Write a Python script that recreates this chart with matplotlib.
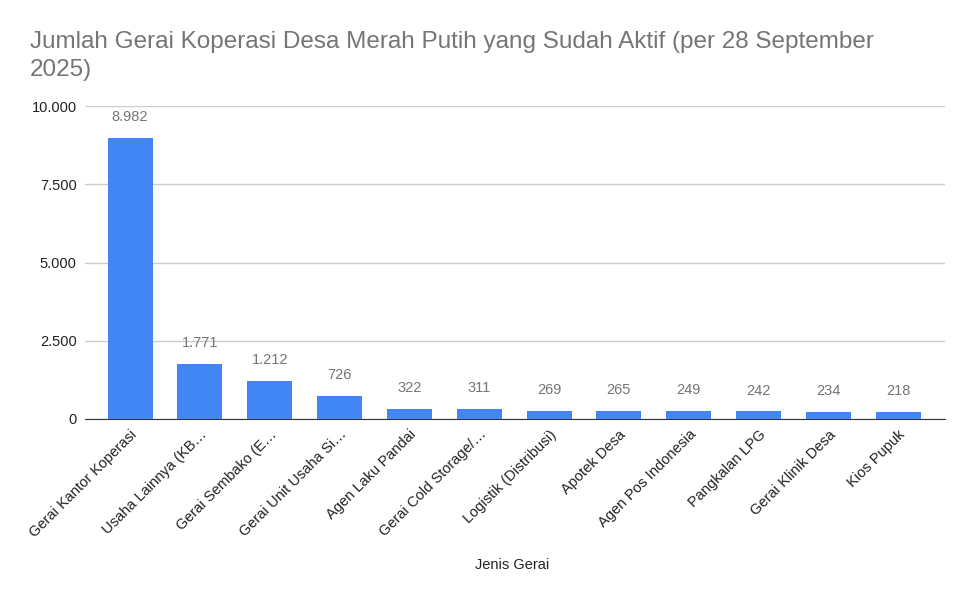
import matplotlib.pyplot as plt

plt.rcParams['font.family'] = ['Liberation Sans', 'DejaVu Sans']

# data
categories = ["Gerai Kantor Koperasi", "Usaha Lainnya (KB…", "Gerai Sembako (E…",
              "Gerai Unit Usaha Si…", "Agen Laku Pandai", "Gerai Cold Storage/…",
              "Logistik (Distribusi)", "Apotek Desa", "Agen Pos Indonesia",
              "Pangkalan LPG", "Gerai Klinik Desa", "Kios Pupuk"]
values = [8982, 1771, 1212, 726, 322, 311, 269, 265, 249, 242, 234, 218]
yticks = [0, 2500, 5000, 7500, 10000]


def fmt(v):
    return f"{v:,}".replace(",", ".")


fig = plt.figure(figsize=(9.75, 6.03), dpi=100)
ax = fig.add_axes([85 / 975, 1 - 419 / 603, 860 / 975, 313 / 603])

x = range(len(categories))
ax.bar(x, values, width=0.645, color='#4285F4', zorder=3)
for i, v in zip(x, values):
    ax.annotate(fmt(v), (i, v), xytext=(0, 10), textcoords='offset points',
                ha='center', va='bottom', fontsize=10.5, color='#757575')

ax.set_xlim(-0.645, 11.67)
ax.set_ylim(0, 10000)
ax.set_yticks(yticks)
ax.set_yticklabels([fmt(t) for t in yticks], fontsize=10.5, color='#222222')
ax.yaxis.grid(True, color='#cccccc', linewidth=1, zorder=0)
ax.set_xticks(list(x))
ax.set_xticklabels(categories, rotation=45, ha='right', rotation_mode='anchor',
                   fontsize=10.5, color='#222222')
ax.tick_params(length=0, pad=6)
for s in ['top', 'right', 'left']:
    ax.spines[s].set_visible(False)
ax.spines['bottom'].set_color('#333333')

fig.text(512 / 975, 1 - 565 / 603, "Jenis Gerai", ha='center', va='center',
         fontsize=10.5, color='#222222')
fig.text(30 / 975, 1 - 31 / 603, "Jumlah Gerai Koperasi Desa Merah Putih yang Sudah Aktif (per 28 September\n2025)",
         ha='left', va='top', fontsize=17.5, color='#757575', linespacing=1.38)

fig.savefig('out.png', dpi=100)
